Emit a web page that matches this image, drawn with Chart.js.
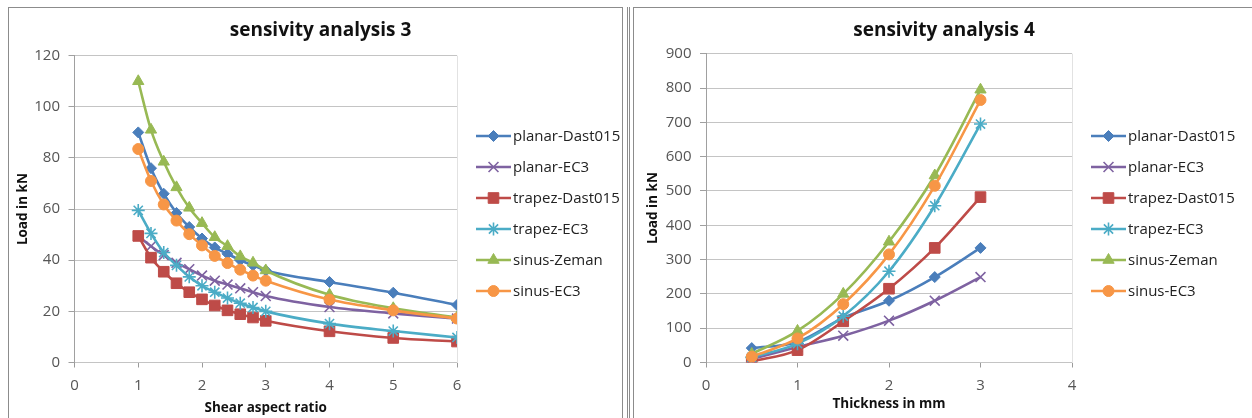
<!DOCTYPE html>
<html><head><meta charset="utf-8">
<script src="https://cdn.jsdelivr.net/npm/chart.js@4"></script>
<style>
html,body{margin:0;padding:0;background:#fff;width:1252px;height:418px;overflow:hidden;position:relative}
.frame{position:absolute;border:1px solid #8c8c8c;box-sizing:border-box}
canvas{position:absolute;top:0}
</style></head><body>
<div class="frame" style="left:8px;top:7px;width:615px;height:440px"></div>
<div class="frame" style="left:627px;top:7px;width:3px;height:440px;border-width:0 1px"></div>
<div class="frame" style="left:633px;top:7px;width:640px;height:440px"></div>
<canvas id="c1" width="623" height="418" style="left:9px"></canvas>
<canvas id="c2" width="620" height="418" style="left:634px"></canvas>
<script>
// ---- data: chart 3 (shear aspect ratio) ----
const ratioX = [1, 1.2, 1.4, 1.6, 1.8, 2, 2.2, 2.4, 2.6, 2.8, 3, 4, 5, 6];
const s3PlanarDast = [90, 76, 66, 58.5, 53, 48.5, 45, 42.5, 40, 38, 36, 31.5, 27.3, 22.5];
const s3PlanarEC3  = [49.5, 45.5, 42, 39, 36.5, 34, 32, 30.5, 29, 27.5, 26, 21.7, 19.2, 17.2];
const s3TrapezDast = [49.5, 41, 35.5, 31, 27.5, 24.7, 22.3, 20.4, 18.9, 17.6, 16.3, 12.2, 9.6, 8.2];
const s3TrapezEC3  = [59.5, 50.5, 43, 38, 33.5, 30, 27.5, 25.2, 23.2, 21.5, 20, 15.2, 12.3, 9.8];
const s3SinusZeman = [110, 91, 78.5, 68.5, 60.5, 54.5, 49, 45.5, 41.5, 39, 36, 26.5, 21.2, 17.6];
const s3SinusEC3   = [83.5, 71, 61.8, 55.5, 50.2, 45.8, 41.7, 38.9, 36.3, 34, 32, 24.6, 20.4, 17.2];
// ---- data: chart 4 (thickness) ----
const thickX = [0.5, 1, 1.5, 2, 2.5, 3];
const s4PlanarDast = [42, 60, 130, 180, 249, 334];
const s4PlanarEC3  = [10, 45, 78, 122, 180, 249];
const s4TrapezDast = [3, 36, 120, 215, 334, 482];
const s4TrapezEC3  = [15, 55, 135, 266, 457, 695];
const s4SinusZeman = [25, 92, 200, 352, 545, 795];
const s4SinusEC3   = [17, 70, 170, 315, 515, 765];

const seriesNames = ['planar-Dast015', 'planar-EC3', 'trapez-Dast015', 'trapez-EC3', 'sinus-Zeman', 'sinus-EC3'];
const titles = ['sensivity analysis 3', 'sensivity analysis 4'];
const xTitles = ['Shear aspect ratio', 'Thickness in mm'];
const yTitle = 'Load in kN';

const styles = [
  {color: '#4A7EBB', point: 'rectRot', r: 5.5},
  {color: '#7E62A1', point: 'crossRot', r: 7},
  {color: '#BE4B48', point: 'rect', r: 7.5},
  {color: '#4BACC6', point: 'star', r: 6.5},
  {color: '#98B954', point: 'triangle', r: 6.5},
  {color: '#F79646', point: 'circle', r: 5.5}
];
const FONT = '"Open Sans", Lato, sans-serif';

function mkDatasets(xs, ys) {
  return ys.map((arr, i) => ({
    label: seriesNames[i],
    data: arr.map((v, k) => ({x: xs[k], y: v})),
    borderColor: styles[i].color,
    backgroundColor: styles[i].color,
    pointBackgroundColor: styles[i].color,
    pointBorderColor: styles[i].color,
    pointStyle: styles[i].point,
    pointRadius: styles[i].r,
    pointBorderWidth: (styles[i].point === 'crossRot' || styles[i].point === 'star') ? 1.6 : 1,
    borderWidth: 2.6,
    cubicInterpolationMode: 'monotone',
    order: 5 - i,
    fill: false
  }));
}

const legendPlugin = {
  id: 'xlLegend',
  afterDraw(chart, args, opts) {
    const ctx = chart.ctx;
    const x0 = chart.chartArea.right + opts.dx;
    chart.data.datasets.forEach((ds, i) => {
      const y = opts.y0 + i * 31;
      ctx.save();
      ctx.strokeStyle = ds.borderColor;
      ctx.lineWidth = 2.6;
      ctx.beginPath(); ctx.moveTo(x0, y); ctx.lineTo(x0 + 35, y); ctx.stroke();
      ctx.fillStyle = ds.borderColor;
      ctx.strokeStyle = ds.borderColor;
      ctx.lineWidth = ds.pointBorderWidth;
      Chart.helpers.drawPoint(ctx, {pointStyle: ds.pointStyle, radius: ds.pointRadius, borderWidth: ds.pointBorderWidth, rotation: 0}, x0 + 17.5, y);
      ctx.fillStyle = '#222';
      ctx.font = '15px ' + FONT;
      ctx.textBaseline = 'middle';
      ctx.textAlign = 'left';
      ctx.fillText(ds.label, x0 + 37, y + 1);
      ctx.restore();
    });
  }
};

function make(id, idx, xs, ys, cfg) {
  new Chart(document.getElementById(id), {
    type: 'line',
    data: {datasets: mkDatasets(xs, ys)},
    plugins: [legendPlugin],
    options: {
      responsive: false,
      animation: false,
      devicePixelRatio: 1,
      layout: {padding: 0},
      plugins: {
        legend: {display: false},
        tooltip: {enabled: false},
        title: {display: true, text: titles[idx], color: '#111',
          font: {family: FONT, size: 19, weight: 'bold'},
          padding: {top: 19.6, bottom: cfg.titleBottom}},
        xlLegend: {dx: 19, y0: 136}
      },
      scales: {
        x: {
          type: 'linear', min: 0, max: cfg.xMax,
          ticks: {stepSize: 1, color: '#555', font: {family: FONT, size: 15}, padding: 9},
          grid: {color: c => (c.tick && c.tick.value === cfg.xMax) ? '#e2e2e2' : 'rgba(0,0,0,0)', tickColor: '#9a9a9a', tickLength: 5, drawOnChartArea: true},
          border: {display: false},
          title: {display: true, text: xTitles[idx], color: '#111', font: {family: FONT, size: 13.5, weight: 'bold'}, padding: {top: 0, bottom: cfg.xTitlePad}},
          afterFit: s => { s.height = 55.5; }
        },
        y: {
          type: 'linear', min: 0, max: cfg.yMax,
          ticks: {stepSize: cfg.yStep, color: '#555', font: {family: FONT, size: 15}, padding: 8.5},
          grid: {color: '#c4c4c4', tickColor: '#a0a0a0', tickLength: 6},
          border: {color: '#a0a0a0'},
          title: {display: true, text: yTitle, color: '#111', font: {family: FONT, size: 13.5, weight: 'bold'}, padding: {top: cfg.yTitlePad, bottom: 0}},
          afterFit: s => { s.width = cfg.yWidth; }
        },
        pad: {
          type: 'linear', position: 'right', display: true,
          grid: {display: false}, ticks: {display: false}, border: {display: false},
          afterFit: s => { s.width = cfg.rightWidth; }
        }
      }
    }
  });
}

make('c1', 0, ratioX, [s3PlanarDast, s3PlanarEC3, s3TrapezDast, s3TrapezEC3, s3SinusZeman, s3SinusEC3],
  {xMax: 6, yMax: 120, yStep: 20, yWidth: 65.5, rightWidth: 175, titleBottom: 13.3, yTitlePad: 6, xTitlePad: 2.2});
make('c2', 1, thickX, [s4PlanarDast, s4PlanarEC3, s4TrapezDast, s4TrapezEC3, s4SinusZeman, s4SinusEC3],
  {xMax: 4, yMax: 900, yStep: 100, yWidth: 72, rightWidth: 182, titleBottom: 11.3, yTitlePad: 11, xTitlePad: 6});
</script>
</body></html>
